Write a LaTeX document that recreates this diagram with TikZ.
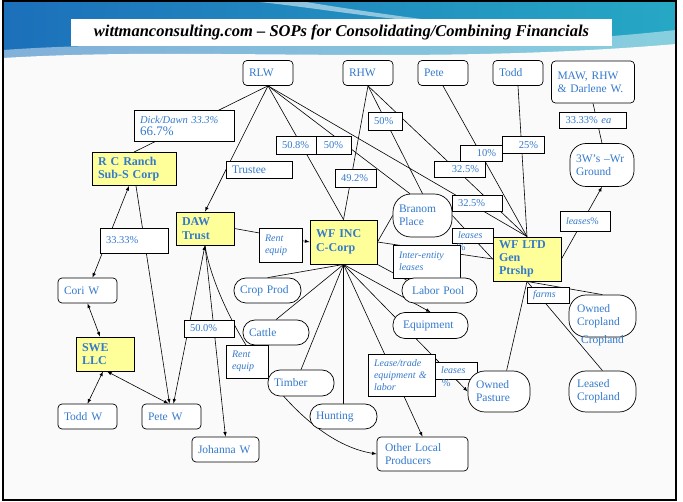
\documentclass[tikz,border=0pt]{standalone}
\usepackage{fontspec}
\setmainfont{Liberation Serif}
\usetikzlibrary{calc}
\definecolor{nodeblue}{RGB}{52,122,204}
\definecolor{entyellow}{RGB}{255,255,153}
\definecolor{bandblue}{RGB}{28,112,186}
\definecolor{bandteal}{RGB}{38,168,196}
\definecolor{slidegray}{RGB}{250,250,250}
\pgfdeclarelayer{back}
\pgfdeclarelayer{wires}
\pgfsetlayers{back,wires,main}
\tikzset{
  base/.style={draw=black, line width=0.7pt, fill=white, text=nodeblue, inner xsep=6pt, inner ysep=1pt, align=left, font=\fontsize{11.5}{13}\selectfont},
  person/.style={base, rounded corners=4pt, minimum height=25pt},
  pill/.style={base, rounded corners=12pt, minimum height=25pt},
  entity/.style={base, fill=entyellow, line width=0.9pt, font=\fontsize{12}{13.5}\selectfont\bfseries},
  pct/.style={base, inner ysep=0pt, font=\fontsize{10.5}{12}\selectfont},
  note/.style={base, inner ysep=0pt, font=\fontsize{10}{12}\selectfont\itshape},
  spill/.style={text=nodeblue, inner sep=0pt, font=\fontsize{10.5}{12}\selectfont},
  wire/.style={line width=0.6pt},
  >=latex
}
\begin{document}
\begin{tikzpicture}[x=1pt,y=-1pt]
\useasboundingbox (0,0) rectangle (683,502);
% slide background
\begin{pgfonlayer}{back}
\fill[white] (0,0) rectangle (683,502);
\fill[slidegray] (3,1) rectangle (676,500);
\shade[left color=bandblue, right color=bandteal] (3,1) rectangle (676,62);
\fill[white, opacity=0.5] (250,1) .. controls (320,8) and (380,20) .. (460,24) .. controls (380,14) and (330,6) .. (300,1) -- cycle;
\fill[white, opacity=0.45] (3,62) -- (3,50) .. controls (200,36) and (420,58) .. (676,30) -- (676,62) -- cycle;
\fill[slidegray] (3,63) -- (3,58) .. controls (200,46) and (420,66) .. (676,44) -- (676,63) -- cycle;
\draw[black, line width=2pt] (3,1) rectangle (676,500);
\end{pgfonlayer}

\node[fill=white, minimum width=541pt, minimum height=27pt, font=\fontsize{16.5}{18}\selectfont\bfseries\itshape] (title) at (341.5,32.5) {wittmanconsulting.com – SOPs for Consolidating/Combining Financials};

% owners
\node[person, text width=38pt] (rlw) at (268,73) {RLW};
\node[person, text width=38pt] (rhw) at (368,73) {RHW};
\node[person, text width=38pt] (pete) at (443,73) {Pete};
\node[person, text width=38pt] (todd) at (518,73) {Todd};
\node[person, text width=71pt, minimum height=42pt, inner xsep=6pt] (maw) at (593,82) {MAW, RHW\\\& Darlene W.};
\node[pct, text width=55pt, minimum height=16pt] (mawpct) at (593,120) {33.33\% \textit{ea}};
\node[pill, text width=52pt, minimum height=43pt, rounded corners=16pt] (wrground) at (602,165) {3W's –Wr\\Ground};
\node[note, text width=38pt, minimum height=20pt] (leasesw) at (585,221) {leases\upshape\%};

% entities
\node[pct, text width=88pt, minimum height=31pt] (dickdawn) at (184,126) {\textit{Dick/Dawn 33.3\%}\\{\fontsize{13}{14}\selectfont 66.7\%}};
\node[entity, text width=72pt, minimum height=33pt] (rcranch) at (134,169) {R C Ranch\\Sub-S Corp};
\node[base, text width=54pt, minimum height=17pt, inner ysep=0pt] (trustee) at (259,170) {Trustee};
\node[pct, text width=28pt, minimum height=18pt] (p508) at (296,145) {50.8\%};
\node[pct, text width=23pt, minimum height=18pt, align=center] (p50a) at (333.5,145) {50\%};
\node[pct, text width=22pt, minimum height=18pt] (p50b) at (385,121) {50\%};
\node[pct, text width=29pt, minimum height=18pt] (p492) at (355.5,178) {49.2\%};
\node[pct, text width=30pt, minimum height=16pt, align=right] (p10) at (481,153) {10\%};
\node[pct, text width=30pt, minimum height=17pt, align=right] (p25) at (523,145) {25\%};
\node[pct, text width=39pt, minimum height=16pt, align=right] (p325a) at (459.5,169) {32.5\%};
\node[pct, text width=38pt, minimum height=16pt] (p325b) at (477,203) {32.5\%};
\node[note, text width=29pt, minimum height=15pt, label={[spill, anchor=north west, xshift=5pt]south west:\%}] (leasesb) at (472.5,235.5) {leases};
\node[pill, text width=47pt, minimum height=43pt, rounded corners=18pt] (branom) at (422.5,215.5) {Branom\\Place};
\node[entity, text width=55pt, minimum height=44pt] (wfinc) at (343.5,242) {WF INC\\C-Corp};
\node[note, text width=55pt, minimum height=33pt] (interent) at (426.5,261.5) {Inter-entity\\leases};
\node[entity, text width=56pt, minimum height=44pt, font=\fontsize{12}{13}\selectfont\bfseries] (wfltd) at (527,259) {WF LTD\\Gen\\Ptrshp};
\node[note, text width=31pt, minimum height=34pt] (rentup) at (280.5,245) {Rent\\equip};
\node[entity, text width=46pt, minimum height=33pt] (daw) at (205,228.5) {DAW\\Trust};
\node[pct, text width=56pt, minimum height=25pt] (p3333) at (134,240.5) {33.33\%};
\node[person, text width=47pt] (cori) at (87.5,290.5) {Cori W};
\node[entity, text width=46pt, minimum height=34pt] (swe) at (105,354) {SWE\\LLC};
\node[pct, text width=38pt, minimum height=17pt] (p500) at (209,328.5) {50.0\%};
\node[person, text width=47pt] (toddw) at (87.5,416.5) {Todd W};
\node[person, text width=47pt] (petew) at (171.5,416.5) {Pete W};
\node[person, text width=55pt] (johanna) at (225.5,449.5) {Johanna W};

% operations
\node[pill, text width=55pt] (crop) at (267.5,290.5) {Crop Prod};
\node[pill, text width=54pt] (cattle) at (276,332.5) {Cattle};
\node[note, text width=30pt, minimum height=33pt] (rentlow) at (247,361.5) {Rent\\equip};
\node[pill, text width=54pt, minimum height=26pt] (timber) at (301,383) {Timber};
\node[pill, text width=55pt] (hunting) at (343.5,416.5) {Hunting};
\node[pill, text width=55pt, inner xsep=10pt] (labor) at (439.5,290.5) {Labor Pool};
\node[pill, text width=55pt, minimum height=26pt, inner xsep=10pt] (equip) at (430.5,325.5) {Equipment};
\node[note, text width=55pt, minimum height=42pt] (leasetrade) at (401.5,375) {Lease/trade\\equipment \&\\labor};
\node[note, text width=30pt, minimum height=17pt, label={[spill, anchor=north west, xshift=7pt]south west:\%}] (leasesc) at (456,370.5) {leases};
\node[pill, text width=46pt, minimum height=41pt, rounded corners=17pt, inner xsep=8pt] (pasture) at (499,391.5) {Owned\\Pasture};
\node[note, text width=30pt, minimum height=16pt] (farms) at (548,295) {farms};
\node[pill, text width=51pt, minimum height=42pt, rounded corners=17pt, inner xsep=8pt, label={[spill, font=\fontsize{11.5}{13}\selectfont, anchor=center, yshift=-3pt]south:Cropland}] (owncrop) at (602.5,316) {Owned\\Cropland};
\node[pill, text width=51pt, minimum height=41pt, rounded corners=17pt, inner xsep=8pt] (leased) at (602.5,391.5) {Leased\\Cropland};
\node[person, text width=75pt, minimum height=34pt, inner xsep=8pt] (other) at (422.5,454) {Other Local\\Producers};

% connectors
\begin{pgfonlayer}{wires}
\draw[wire] (rlw.south) -- (rcranch.north);
\draw[wire,->] (rlw.south) -- (daw.north);
\draw[wire] (rlw.south) -- (wfinc.north);
\draw[wire] (rlw.south) -- (branom.120);
\draw[wire] (rlw.south) -- (wfltd.north);
\draw[wire] (rhw.south) -- (wfinc.north);
\draw[wire] (rhw.south) -- (branom.north);
\draw[wire] (rhw.south) -- (wfltd.north);
\draw[wire] (pete.south) -- (wfltd.north);
\draw[wire] (todd.south) -- (wfltd.north);
\draw[wire] (maw.south) -- (wrground.north);
\draw[wire,->] (wfltd.east) -- (wrground.south);
\draw[wire,->] (daw.east) -- (wfinc.west);
\draw[wire] (wfinc.east) -- (branom.west);
\draw[wire] (wfinc.east) -- (wfltd.west);
\draw[wire] (branom.east) -- (wfltd.west);
\foreach \n in {crop,cattle,timber,hunting}
  \draw[wire] (wfinc.south) -- (\n.north);
\foreach \n in {other.north,equip.north,pasture.west}
  \draw[wire,->] (wfinc.south) -- (\n);
\draw[wire] (wfinc.south east) -- ($(labor.north west)+(5,2.5)$);
\draw[wire] (wfltd.south) -- (pasture.70);
\draw[wire] (wfltd.south) -- (owncrop.north);
\draw[wire] (wfltd.south) -- (leased.north);
\draw[wire,<->] ([xshift=-5pt]rcranch.south) -- ([xshift=5pt]cori.north);
\draw[wire,->] ([xshift=2pt]rcranch.south) -- ([xshift=-2pt]petew.north);
\draw[wire,<->] (cori.south) -- ([xshift=-5pt]swe.north);
\draw[wire,<->] ([xshift=-2pt]swe.south) -- (toddw.north);
\draw[wire,<->] ([xshift=2pt]swe.south) -- ([xshift=-3pt]petew.north);
\draw[wire,<->] (daw.south) -- ([xshift=2pt]petew.north);
\draw[wire,->] (daw.south) -- (johanna.north);
\draw[wire,->] (daw.south) .. controls (215,310) and (290,440) .. (other.west);
\end{pgfonlayer}
\end{tikzpicture}
\end{document}
